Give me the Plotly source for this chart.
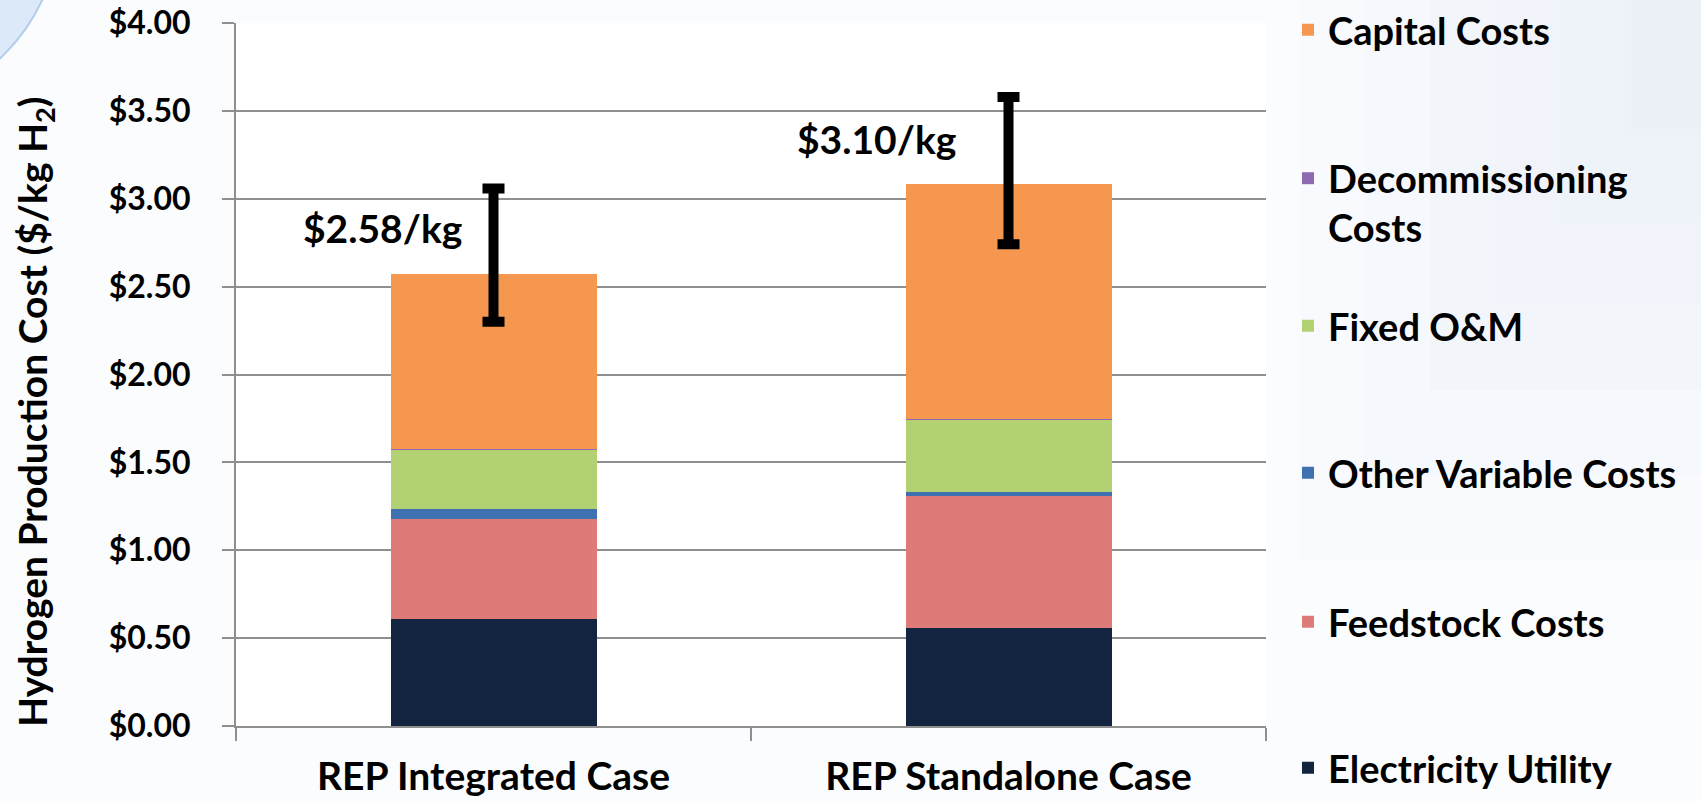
import plotly.graph_objects as go

# ---------------- data ----------------
categories = ["REP Integrated Case", "REP Standalone Case"]
electricity_utility = [0.607, 0.555]
feedstock_costs = [0.568, 0.755]
other_variable_costs = [0.058, 0.023]
fixed_om = [0.342, 0.410]
decommissioning_costs = [0.002, 0.002]
capital_costs = [0.994, 1.341]
error_plus = [0.487, 0.493]
error_minus = [0.271, 0.345]
total_labels = ["$2.58/kg", "$3.10/kg"]
series_names = ["Electricity Utility", "Feedstock Costs", "Other Variable Costs",
                "Fixed O&M", "Decommissioning<br>Costs", "Capital Costs"]
y_title = "Hydrogen Production Cost ($/kg H<sub>2</sub>)"
y_ticks = [0, 0.5, 1.0, 1.5, 2.0, 2.5, 3.0, 3.5, 4.0]

# ---------------- style ----------------
W, H = 1701, 801
PL, PR, PT, PB = 236, 1266, 23, 726          # plot area in pixels
FONT = "Lato, 'Open Sans', 'DejaVu Sans', sans-serif"
GRID = "#8f8f8f"
colors = ["#12243f", "#de7b79", "#3f70b0", "#b1d172", "#8e6bb0", "#f5974f"]
legend_centers_px = [768, 622, 473, 326, 203, 30]


def px_to_paper_x(px):
    return (px - PL) / (PR - PL)


def px_to_paper_y(py):
    return (PB - py) / (PB - PT)


series = [electricity_utility, feedstock_costs, other_variable_costs,
          fixed_om, decommissioning_costs, capital_costs]
totals = [sum(s[i] for s in series) for i in range(len(categories))]

fig = go.Figure()
legend_layouts = {}
for k, (name, vals, col, ly) in enumerate(zip(series_names, series, colors, legend_centers_px)):
    lname = "legend" if k == 0 else f"legend{k + 1}"
    fig.add_trace(go.Bar(
        x=categories, y=vals, name=name, marker=dict(color=col, line=dict(width=0)),
        legend=lname,
    ))
    legend_layouts[lname] = dict(
        x=px_to_paper_x(1288), xanchor="left",
        y=px_to_paper_y(ly), yanchor="middle",
        valign="top",
        bgcolor="rgba(0,0,0,0)", borderwidth=0,
        font=dict(family=FONT, size=38, color="black", weight="bold"),
    )

fig.add_trace(go.Scatter(
    x=categories, y=totals, mode="markers",
    marker=dict(size=1, opacity=0),
    error_y=dict(type="data", symmetric=False, array=error_plus, arrayminus=error_minus,
                 color="black", thickness=10, width=11),
    showlegend=False, hoverinfo="skip",
))

label_offsets = [(-0.2165, 2.833), (0.744, 3.339)]
for txt, (lx, ly) in zip(total_labels, label_offsets):
    fig.add_annotation(x=lx, y=ly, xref="x", yref="y", text=txt, showarrow=False,
                       font=dict(family=FONT, size=39, color="black", weight="bold"))

# y-axis title (placed like the original, slightly below the axis centre)
fig.add_annotation(x=px_to_paper_x(35), y=px_to_paper_y(412), xref="paper", yref="paper",
                   text=y_title, textangle=-90, showarrow=False,
                   xanchor="center", yanchor="middle",
                   font=dict(family=FONT, size=39, color="black", weight="bold"))

# background decoration (slide swoosh top-left, soft blue tint right)
fig.add_shape(type="circle", xref="paper", yref="paper", layer="below",
              x0=px_to_paper_x(-320), x1=px_to_paper_x(60),
              y0=px_to_paper_y(110), y1=px_to_paper_y(-270),
              fillcolor="rgba(160,198,238,0.35)", line=dict(color="rgba(110,160,220,0.45)", width=2))
for step in range(6):
    fig.add_shape(type="rect", xref="paper", yref="paper", layer="below",
                  x0=px_to_paper_x(1300 + step * 65), x1=px_to_paper_x(1701),
                  y0=px_to_paper_y(560 - step * 85), y1=px_to_paper_y(0),
                  fillcolor="rgba(215,230,248,0.08)", line=dict(width=0))

fig.update_layout(
    width=W, height=H,
    margin=dict(l=PL, r=W - PR, t=PT, b=H - PB, pad=0, autoexpand=False),
    barmode="stack", bargap=0.6,
    paper_bgcolor="#fbfcfe", plot_bgcolor="rgba(255,255,255,0.9)",
    font=dict(family=FONT, color="black"),
    **legend_layouts,
)
fig.update_yaxes(
    range=[0, 4], tickvals=y_ticks, tickformat="$.2f",
    showgrid=True, gridcolor=GRID, gridwidth=2,
    showline=True, linecolor=GRID, linewidth=2,
    ticks="outside", ticklen=12, tickwidth=2, tickcolor=GRID,
    ticklabelstandoff=25,
    tickfont=dict(family=FONT, size=32, color="black", weight="bold"),
    zeroline=False,
)
fig.update_xaxes(
    type="category", range=[-0.5, 1.5],
    showgrid=False, showline=True, linecolor=GRID, linewidth=2,
    ticks="outside", tickson="boundaries", ticklen=13, tickwidth=2, tickcolor=GRID,
    ticklabelstandoff=15,
    tickfont=dict(family=FONT, size=39, color="black", weight="bold"),
)

fig.write_html("out.html", config={"displayModeBar": False},
               post_script="document.body.style.margin='0';document.body.style.overflow='hidden';")
